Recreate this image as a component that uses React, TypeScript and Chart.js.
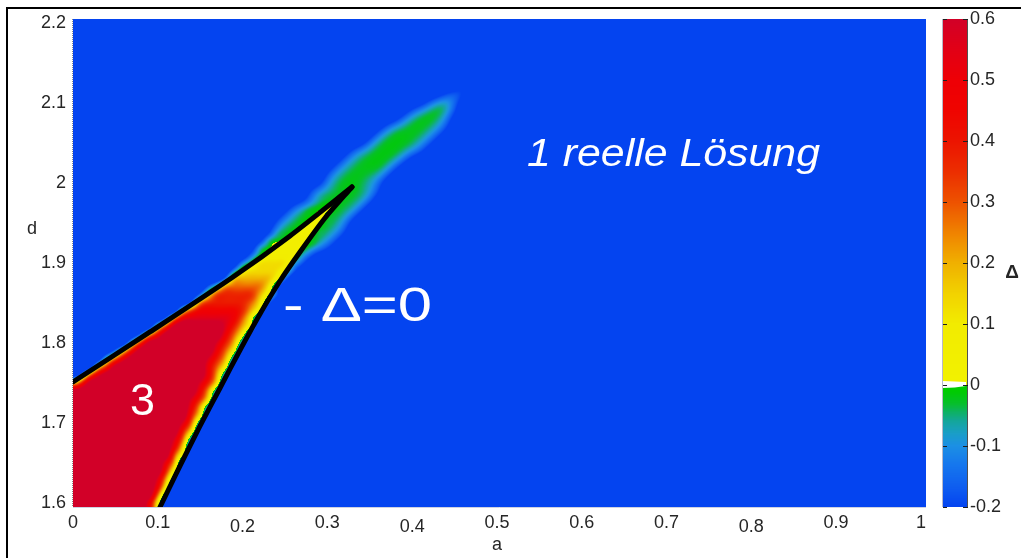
import React, { useEffect, useRef } from "react";
import { Chart, registerables } from "chart.js";

Chart.register(...registerables);

const FONT = "'Liberation Sans', Arial, Helvetica, sans-serif";
const INK = "#262626";

// ---------- axes ----------
const A_MIN = 0;
const A_MAX = 1.006;
const D_MIN = 1.595;
const D_MAX = 2.205;
const DELTA_MIN = -0.2;
const DELTA_MAX = 0.6;
const A_TICKS = [0, 0.1, 0.2, 0.3, 0.4, 0.5, 0.6, 0.7, 0.8, 0.9, 1];
const A_TICKS_LOWERED = [0.2, 0.4, 0.8];
const D_TICKS = [1.6, 1.7, 1.8, 1.9, 2, 2.1, 2.2];
const DELTA_TICKS = [-0.2, -0.1, 0, 0.1, 0.2, 0.3, 0.4, 0.5, 0.6];

// ---------- Δ = 0 curves (black) ----------
const UPPER_A = [0, 0.0908, 0.1887, 0.2559, 0.329];
const UPPER_D = [1.7513, 1.8138, 1.8825, 1.9338, 1.995];
const LOWER_A = [0.1026, 0.1262, 0.1498, 0.1734, 0.197, 0.2205, 0.2441, 0.2677, 0.2972, 0.329];
const LOWER_D = [1.595, 1.6463, 1.6963, 1.7438, 1.7913, 1.8363, 1.8775, 1.9138, 1.9563, 1.995];

// ---------- Δ(a, d) field ----------
// columns: a = 0.00, 0.01, ... 0.50 ; rows: d = 2.20 (top) ... 1.60 (bottom)
const GRID_A0 = 0;
const GRID_A_STEP = 0.01;
const GRID_D_TOP = 2.2;
const GRID_D_STEP = 0.01;
const LEVEL_CODES = "0123456789ABCDE";
const LEVEL_VALUES = [-0.3, -0.16, -0.11, -0.07, -0.04, -0.015, 0.02, 0.07, 0.13, 0.2, 0.28, 0.38, 0.48, 0.56, 0.7];
const FIELD_ROWS = [
  "0000000000 0000000000 0000000000 0000000000 0000000000 0", // 2.20
  "0000000000 0000000000 0000000000 0000000000 0000000000 0", // 2.19
  "0000000000 0000000000 0000000000 0000000000 0000000000 0", // 2.18
  "0000000000 0000000000 0000000000 0000000000 0000000000 0", // 2.17
  "0000000000 0000000000 0000000000 0000000000 0000000000 0", // 2.16
  "0000000000 0000000000 0000000000 0000000000 0000000000 0", // 2.15
  "0000000000 0000000000 0000000000 0000000000 0000000000 0", // 2.14
  "0000000000 0000000000 0000000000 0000000000 0000000000 0", // 2.13
  "0000000000 0000000000 0000000000 0000000000 0000001000 0", // 2.12
  "0000000000 0000000000 0000000000 0000000000 0000121000 0", // 2.11
  "0000000000 0000000000 0000000000 0000000000 0014410000 0", // 2.10
  "0000000000 0000000000 0000000000 0000000000 1355410000 0", // 2.09
  "0000000000 0000000000 0000000000 0000000002 4554200000 0", // 2.08
  "0000000000 0000000000 0000000000 0000000144 5543100000 0", // 2.07
  "0000000000 0000000000 0000000000 0000002455 5431000000 0", // 2.06
  "0000000000 0000000000 0000000000 0000024555 4310000000 0", // 2.05
  "0000000000 0000000000 0000000000 0001345554 3100000000 0", // 2.04
  "0000000000 0000000000 0000000000 0013455542 0000000000 0", // 2.03
  "0000000000 0000000000 0000000000 0134555410 0000000000 0", // 2.02
  "0000000000 0000000000 0000000000 1345544100 0000000000 0", // 2.01
  "0000000000 0000000000 0000000000 2455431000 0000000000 0", // 2.00
  "0000000000 0000000000 0000000013 4455431000 0000000000 0", // 1.99
  "0000000000 0000000000 0000000013 4554420000 0000000000 0", // 1.98
  "0000000000 0000000000 0000001345 6544200000 0000000000 0", // 1.97
  "0000000000 0000000000 0000013456 5442000000 0000000000 0", // 1.96
  "0000000000 0000000000 0000134566 4420000000 0000000000 0", // 1.95
  "0000000000 0000000000 0000345664 4310000000 0000000000 0", // 1.94
  "0000000000 0000000000 0003457754 3100000000 0000000000 0", // 1.93
  "0000000000 0000000000 0034777643 1000000000 0000000000 0", // 1.92
  "0000000000 0000000000 0147777310 0000000000 0000000000 0", // 1.91
  "0000000000 0000000000 2588883100 0000000000 0000000000 0", // 1.90
  "0000000000 0000000002 7888861000 0000000000 0000000000 0", // 1.89
  "0000000000 0000000019 9999710000 0000000000 0000000000 0", // 1.88
  "0000000000 00000016AA AAA8100000 0000000000 0000000000 0", // 1.87
  "0000000000 0000018BBB BB96100000 0000000000 0000000000 0", // 1.86
  "0000000000 00001ABBBB BA81000000 0000000000 0000000000 0", // 1.85
  "0000000000 0008BCCCCC B960000000 0000000000 0000000000 0", // 1.84
  "0000000000 01ADDDDDDC A700000000 0000000000 0000000000 0", // 1.83
  "0000000000 7BEEEEEEDB 9600000000 0000000000 0000000000 0", // 1.82
  "0000000019 CEEEEEEECA 7000000000 0000000000 0000000000 0", // 1.81
  "00000006BE EEEEEEEDB9 1000000000 0000000000 0000000000 0", // 1.80
  "0000018CEE EEEEEEECA7 0000000000 0000000000 0000000000 0", // 1.79
  "00006ADEEE EEEEEEDB91 0000000000 0000000000 0000000000 0", // 1.78
  "0008BEEEEE EEEEEECA70 0000000000 0000000000 0000000000 0", // 1.77
  "01ADEEEEEE EEEEEEC910 0000000000 0000000000 0000000000 0", // 1.76
  "7BEEEEEEEE EEEEEDB800 0000000000 0000000000 0000000000 0", // 1.75
  "EEEEEEEEEE EEEEEC9100 0000000000 0000000000 0000000000 0", // 1.74
  "EEEEEEEEEE EEEEDB8000 0000000000 0000000000 0000000000 0", // 1.73
  "EEEEEEEEEE EEEEC91000 0000000000 0000000000 0000000000 0", // 1.72
  "EEEEEEEEEE EEEEB80000 0000000000 0000000000 0000000000 0", // 1.71
  "EEEEEEEEEE EEEDA10000 0000000000 0000000000 0000000000 0", // 1.70
  "EEEEEEEEEE EEEB800000 0000000000 0000000000 0000000000 0", // 1.69
  "EEEEEEEEEE EEDA100000 0000000000 0000000000 0000000000 0", // 1.68
  "EEEEEEEEEE EEC8000000 0000000000 0000000000 0000000000 0", // 1.67
  "EEEEEEEEEE EEA6000000 0000000000 0000000000 0000000000 0", // 1.66
  "EEEEEEEEEE EC90000000 0000000000 0000000000 0000000000 0", // 1.65
  "EEEEEEEEEE EB60000000 0000000000 0000000000 0000000000 0", // 1.64
  "EEEEEEEEEE D910000000 0000000000 0000000000 0000000000 0", // 1.63
  "EEEEEEEEEE C700000000 0000000000 0000000000 0000000000 0", // 1.62
  "EEEEEEEEEE A100000000 0000000000 0000000000 0000000000 0", // 1.61
  "EEEEEEEEEC 7000000000 0000000000 0000000000 0000000000 0", // 1.60
];

// ---------- colour map (jet-like, as on the colour bar) ----------
const CMAP_V = [-0.2, -0.17, -0.13, -0.1, -0.08, -0.06, -0.045, -0.03, -0.01, 0, 0, 0.1, 0.15, 0.2, 0.25, 0.3, 0.35, 0.4, 0.45, 0.5, 0.55, 0.6];
const CMAP_RGB: [number, number, number][] = [
  [4, 68, 240], [14, 92, 240], [22, 120, 238], [28, 144, 228], [26, 158, 200], [20, 166, 156],
  [14, 178, 100], [6, 192, 40], [0, 204, 0], [0, 208, 0],
  [242, 242, 0], [242, 236, 0], [242, 210, 0], [240, 176, 0], [240, 130, 0], [238, 82, 0],
  [236, 46, 0], [236, 20, 0], [240, 4, 0], [238, 0, 6], [226, 0, 22], [210, 0, 40],
];

// ---------- handwritten notes ----------
const NOTES = [
  { text: "1 reelle Lösung", a0: 0.5354, a1: 0.881, d: 2.0213, font: "italic 38px " + FONT },
  { text: "3", a0: 0.0672, a1: 0.0967, d: 1.71, font: "44px " + FONT },
  { text: "- Δ=0", a0: 0.2477, a1: 0.4234, d: 1.8275, font: "48px " + FONT },
];

function cmap(v: number): [number, number, number] {
  const n = CMAP_V.length;
  if (v <= CMAP_V[0]) return CMAP_RGB[0];
  if (v >= CMAP_V[n - 1]) return CMAP_RGB[n - 1];
  for (let i = 0; i < n - 1; i++) {
    const v0 = CMAP_V[i], v1 = CMAP_V[i + 1];
    if (v >= v0 && v < v1) {
      const t = (v - v0) / (v1 - v0);
      const c0 = CMAP_RGB[i], c1 = CMAP_RGB[i + 1];
      return [c0[0] + (c1[0] - c0[0]) * t, c0[1] + (c1[1] - c0[1]) * t, c0[2] + (c1[2] - c0[2]) * t];
    }
  }
  return CMAP_RGB[n - 1];
}

const LUT: [number, number, number][] = [];
for (let i = 0; i <= 800; i++) LUT.push(cmap((i - 200) / 1000));
function lut(v: number) {
  let i = Math.floor(v * 1000 + 200 + 1e-9);
  if (i < 0) i = 0;
  if (i > 800) i = 800;
  return LUT[i];
}

const GRID: number[][] = FIELD_ROWS.map((r) =>
  r.replace(/\s+/g, "").split("").map((ch) => LEVEL_VALUES[Math.max(0, LEVEL_CODES.indexOf(ch))])
);
const GRID_COLS = Math.max(...GRID.map((r) => r.length));
function cell(r: number, c: number) {
  const rr = Math.max(0, Math.min(GRID.length - 1, r));
  const row = GRID[rr];
  const cc = Math.max(0, c);
  return cc < row.length ? row[cc] : LEVEL_VALUES[0];
}

function fmt(v: any): string {
  const n = Math.round(Number(v) * 10) / 10;
  return String(n === 0 ? 0 : n);
}

// Catmull-Rom weights
function crWeights(t: number): [number, number, number, number] {
  const t2 = t * t, t3 = t2 * t;
  return [(-t3 + 2 * t2 - t) / 2, (3 * t3 - 5 * t2 + 2) / 2, (-3 * t3 + 4 * t2 + t) / 2, (t3 - t2) / 2];
}

// separable box blur (display smoothing of the interpolated field)
function boxBlur(src: Float32Array, w: number, h: number, r: number): Float32Array {
  const tmp = new Float32Array(w * h);
  const out = new Float32Array(w * h);
  const pre = new Float64Array(Math.max(w, h) + 1);
  for (let y = 0; y < h; y++) {
    pre[0] = 0;
    for (let x = 0; x < w; x++) pre[x + 1] = pre[x] + src[y * w + x];
    for (let x = 0; x < w; x++) {
      const lo = Math.max(0, x - r), hi = Math.min(w, x + r + 1);
      tmp[y * w + x] = (pre[hi] - pre[lo]) / (hi - lo);
    }
  }
  for (let x = 0; x < w; x++) {
    pre[0] = 0;
    for (let y = 0; y < h; y++) pre[y + 1] = pre[y] + tmp[y * w + x];
    for (let y = 0; y < h; y++) {
      const lo = Math.max(0, y - r), hi = Math.min(h, y + r + 1);
      out[y * w + x] = (pre[hi] - pre[lo]) / (hi - lo);
    }
  }
  return out;
}

const fieldPlugin = {
  id: "deltaField",
  beforeDatasetsDraw(chart: any) {
    const { ctx, chartArea, scales } = chart;
    const xs = scales.x, ys = scales.y;
    const left = Math.round(chartArea.left), top = Math.round(chartArea.top);
    const w = Math.round(chartArea.right) - left, h = Math.round(chartArea.bottom) - top;
    const nr = GRID.length, nc = GRID_COLS;
    const cIdx = new Int32Array(w);
    const cW: [number, number, number, number][] = [];
    for (let px = 0; px < w; px++) {
      const a = xs.getValueForPixel(left + px + 0.5);
      let g = (a - GRID_A0) / GRID_A_STEP;
      g = Math.max(0, Math.min(nc - 1, g));
      const c = Math.min(Math.floor(g), nc - 2);
      cIdx[px] = c;
      cW.push(crWeights(g - c));
    }
    const raw = new Float32Array(w * h);
    const pos = new Float32Array(w * h);
    const rowVals = new Float64Array(4);
    for (let py = 0; py < h; py++) {
      const d = ys.getValueForPixel(top + py + 0.5);
      let g = (GRID_D_TOP - d) / GRID_D_STEP;
      g = Math.max(0, Math.min(nr - 1, g));
      const r = Math.min(Math.floor(g), nr - 2);
      const wy = crWeights(g - r);
      for (let px = 0; px < w; px++) {
        const c = cIdx[px], wx = cW[px];
        for (let j = 0; j < 4; j++) {
          const rr = r - 1 + j;
          rowVals[j] =
            wx[0] * cell(rr, c - 1) + wx[1] * cell(rr, c) + wx[2] * cell(rr, c + 1) + wx[3] * cell(rr, c + 2);
        }
        const v = wy[0] * rowVals[0] + wy[1] * rowVals[1] + wy[2] * rowVals[2] + wy[3] * rowVals[3];
        raw[py * w + px] = v;
        pos[py * w + px] = v > 0 ? 1 : 0;
      }
    }
    // fine smoothing near the Δ>0 wedge, broad smoothing over the Δ<0 ridge
    const mild = boxBlur(boxBlur(raw, w, h, 3), w, h, 3);
    const strong = boxBlur(boxBlur(boxBlur(raw, w, h, 5), w, h, 5), w, h, 5);
    const near = boxBlur(boxBlur(pos, w, h, 7), w, h, 7);
    const off = document.createElement("canvas");
    off.width = w;
    off.height = h;
    const octx = off.getContext("2d") as CanvasRenderingContext2D;
    const img = octx.createImageData(w, h);
    const data = img.data;
    for (let i = 0; i < w * h; i++) {
      const m = Math.min(1, near[i] * 8);
      const v = m * mild[i] + (1 - m) * strong[i];
      const col = lut(v);
      data[i * 4] = col[0];
      data[i * 4 + 1] = col[1];
      data[i * 4 + 2] = col[2];
      data[i * 4 + 3] = 255;
    }
    octx.putImageData(img, 0, 0);
    ctx.drawImage(off, left, top);
  },
};

const decorPlugin = {
  id: "decor",
  afterDraw(chart: any) {
    const { ctx, chartArea, scales } = chart;
    const xs = scales.x, ys = scales.y, cb = scales.cb;
    ctx.save();

    // left dotted axis line, light bottom line
    ctx.strokeStyle = "#8c8c8c";
    ctx.lineWidth = 1;
    ctx.setLineDash([1, 1]);
    ctx.beginPath();
    ctx.moveTo(chartArea.left - 0.5, chartArea.top);
    ctx.lineTo(chartArea.left - 0.5, chartArea.bottom);
    ctx.stroke();
    ctx.setLineDash([]);
    ctx.strokeStyle = "#cdd2e2";
    ctx.beginPath();
    ctx.moveTo(chartArea.left, chartArea.bottom + 0.5);
    ctx.lineTo(chartArea.right, chartArea.bottom + 0.5);
    ctx.stroke();

    // colour bar
    const bx = Math.round(cb.left + 17), bw = 24;
    for (let y = Math.round(cb.top); y < Math.round(cb.bottom); y++) {
      const c = lut(cb.getValueForPixel(y + 0.5));
      ctx.fillStyle = `rgb(${c[0] | 0},${c[1] | 0},${c[2] | 0})`;
      ctx.fillRect(bx, y, bw, 1);
    }
    // white notch at Δ = 0
    const y0 = cb.getPixelForValue(0);
    ctx.fillStyle = "#ffffff";
    ctx.beginPath();
    ctx.moveTo(bx, y0 - 4);
    ctx.lineTo(bx + bw - 1, y0 - 3);
    ctx.lineTo(bx + bw - 1, y0 + 1);
    ctx.quadraticCurveTo(bx + bw * 0.5, y0 + 3, bx, y0 + 3);
    ctx.closePath();
    ctx.fill();
    ctx.strokeStyle = "#b8b8c8";
    ctx.beginPath();
    ctx.moveTo(bx - 0.5, cb.top);
    ctx.lineTo(bx - 0.5, cb.bottom);
    ctx.stroke();
    ctx.strokeStyle = "#505050";
    ctx.beginPath();
    ctx.moveTo(bx + bw + 0.5, cb.top);
    ctx.lineTo(bx + bw + 0.5, cb.bottom);
    ctx.stroke();
    ctx.strokeStyle = "#1e1e1e";
    for (const v of DELTA_TICKS) {
      const y = Math.round(cb.getPixelForValue(v)) + 0.5;
      ctx.beginPath();
      ctx.moveTo(bx, y);
      ctx.lineTo(bx + 4, y);
      ctx.moveTo(bx + bw - 4, y);
      ctx.lineTo(bx + bw + 1, y);
      ctx.stroke();
    }

    // axis titles
    ctx.fillStyle = INK;
    ctx.textAlign = "center";
    ctx.textBaseline = "middle";
    ctx.font = "18px " + FONT;
    ctx.fillText("a", xs.getPixelForValue(0.5), chartArea.bottom + 38);
    ctx.fillText("d", 32, chartArea.top + 210);
    ctx.font = "bold 19px " + FONT;
    ctx.fillText("Δ", cb.right - 9, chartArea.top + 254);

    // frame
    ctx.fillStyle = "#000";
    ctx.fillRect(6, 7, chart.width - 6, 2);
    ctx.fillRect(6, 7, 2, chart.height - 7);

    // handwritten notes
    ctx.fillStyle = "#ffffff";
    ctx.textAlign = "left";
    ctx.textBaseline = "alphabetic";
    for (const n of NOTES) {
      const x0 = xs.getPixelForValue(n.a0);
      const x1 = xs.getPixelForValue(n.a1);
      const y = ys.getPixelForValue(n.d);
      ctx.font = n.font;
      const m = ctx.measureText(n.text).width;
      ctx.save();
      ctx.translate(x0, y);
      ctx.scale((x1 - x0) / m, 1);
      ctx.fillText(n.text, 0, 0);
      ctx.restore();
    }
    ctx.restore();
  },
};

export default function App() {
  const ref = useRef<HTMLCanvasElement | null>(null);

  useEffect(() => {
    if (!ref.current) return;
    const lineStyle = {
      showLine: true,
      borderColor: "#000000",
      borderWidth: 5,
      pointRadius: 0,
      tension: 0.25,
      borderCapStyle: "round" as const,
      clip: 0,
    };
    const chart = new Chart(ref.current, {
      type: "scatter",
      data: {
        datasets: [
          { ...lineStyle, data: UPPER_A.map((a, i) => ({ x: a, y: UPPER_D[i] })) },
          { ...lineStyle, data: LOWER_A.map((a, i) => ({ x: a, y: LOWER_D[i] })) },
        ],
      },
      options: {
        animation: false,
        responsive: false,
        devicePixelRatio: 1,
        events: [],
        layout: { padding: { top: 19, left: 0, right: 0, bottom: 0 } },
        plugins: { legend: { display: false }, tooltip: { enabled: false }, title: { display: false } },
        scales: {
          x: {
            type: "linear",
            min: A_MIN,
            max: A_MAX,
            afterBuildTicks: (s: any) => {
              s.ticks = A_TICKS.map((value) => ({ value }));
            },
            afterFit: (s: any) => {
              s.height = 51;
              s.paddingLeft = 0;
              s.paddingRight = 0;
            },
            grid: { display: false, drawTicks: false },
            border: { display: false },
            ticks: {
              autoSkip: false,
              maxRotation: 0,
              padding: 5,
              color: INK,
              callback: fmt,
              font: (c: any) => {
                const lowered =
                  c && c.tick && A_TICKS_LOWERED.some((t) => Math.abs(t - c.tick.value) < 1e-6);
                return { family: FONT, size: 18, lineHeight: lowered ? "30px" : "22px" };
              },
            },
          },
          y: {
            type: "linear",
            min: D_MIN,
            max: D_MAX,
            afterBuildTicks: (s: any) => {
              s.ticks = D_TICKS.map((value) => ({ value }));
            },
            afterFit: (s: any) => {
              s.width = 73;
              s.paddingTop = 0;
              s.paddingBottom = 0;
            },
            grid: { display: false, drawTicks: false },
            border: { display: false },
            ticks: { padding: 7, color: INK, callback: fmt, font: { family: FONT, size: 18 } },
          },
          cb: {
            type: "linear",
            axis: "y",
            position: "right",
            min: DELTA_MIN,
            max: DELTA_MAX,
            afterBuildTicks: (s: any) => {
              s.ticks = DELTA_TICKS.map((value) => ({ value }));
            },
            afterFit: (s: any) => {
              s.width = 95;
              s.paddingTop = 0;
              s.paddingBottom = 0;
            },
            grid: { display: false, drawTicks: false },
            border: { display: false },
            ticks: { padding: 44, color: INK, callback: fmt, font: { family: FONT, size: 18 } },
          },
        },
      } as any,
      plugins: [fieldPlugin, decorPlugin],
    });
    return () => chart.destroy();
  }, []);

  return (
    <div style={{ position: "absolute", left: 0, top: 0, width: 1021, height: 558, background: "#ffffff" }}>
      <canvas ref={ref} width={1021} height={558} style={{ display: "block" }} />
    </div>
  );
}
